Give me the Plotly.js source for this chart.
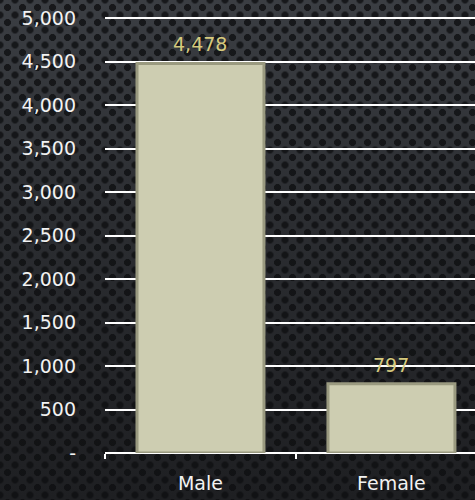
<!DOCTYPE html>
<html>
<head>
<meta charset="utf-8">
<script src="https://cdn.plot.ly/plotly-3.0.1.min.js"></script>
<style>
html,body{margin:0;padding:0;width:475px;height:500px;overflow:hidden;}
body{
  background-color:#26282c;
  background-image:
    radial-gradient(circle at 50% 50%, rgba(14,15,17,0.8) 0 3.2px, transparent 3.8px),
    radial-gradient(circle at 50% 50%, rgba(14,15,17,0.8) 0 3.2px, transparent 3.8px),
    linear-gradient(to bottom, #3b3e43 0%, #2b2d31 45%, #1e1f22 100%);
  background-size:15px 15px, 15px 15px, 100% 100%;
  background-position:0 0, 7.5px 7.5px, 0 0;
}
#chart{width:475px;height:500px;}
</style>
</head>
<body>
<div id="chart"></div>
<script>
const categories = ["Male", "Female"];
const values = [4478, 797];
const yTickVals = [0, 500, 1000, 1500, 2000, 2500, 3000, 3500, 4000, 4500, 5000];
const yTickText = ["-", "500", "1,000", "1,500", "2,000", "2,500", "3,000", "3,500", "4,000", "4,500", "5,000"];
const labelText = values.map(v => v.toLocaleString("en-US"));

const font = "'DejaVu Sans', sans-serif";

const data = [{
  type: "bar",
  x: categories,
  y: values,
  width: 0.665,
  marker: {color: "#cdcdb1", line: {color: "#9a9a80", width: 3}},
  hoverinfo: "none"
}];

const annotations = categories.map((c, i) => ({
  x: c, y: values[i], xref: "x", yref: "y",
  text: labelText[i], showarrow: false,
  yanchor: "bottom", yshift: 6,
  font: {family: font, size: 19, color: "#d6ca7e"}
}));

const layout = {
  width: 475, height: 500,
  margin: {l: 105, r: 0, t: 17, b: 47},
  paper_bgcolor: "rgba(0,0,0,0)",
  plot_bgcolor: "rgba(0,0,0,0)",
  showlegend: false,
  annotations: annotations,
  xaxis: {
    type: "category",
    range: [-0.5, 1.4375],
    tickson: "boundaries",
    ticks: "outside",
    ticklen: 5,
    tickwidth: 2,
    tickcolor: "#ffffff",
    ticklabelstandoff: 17,
    showline: false,
    showgrid: false,
    zeroline: false,
    tickfont: {family: font, size: 19, color: "#f2f2f2"},
    fixedrange: true
  },
  yaxis: {
    range: [0, 5012],
    tickvals: yTickVals,
    ticktext: yTickText,
    showgrid: true,
    gridcolor: "#ffffff",
    gridwidth: 2,
    zeroline: true,
    zerolinecolor: "#ffffff",
    zerolinewidth: 2,
    ticks: "",
    ticklabelstandoff: 28,
    tickfont: {family: font, size: 19, color: "#f2f2f2"},
    fixedrange: true
  }
};

Plotly.newPlot("chart", data, layout, {displayModeBar: false, staticPlot: true});
</script>
</body>
</html>
